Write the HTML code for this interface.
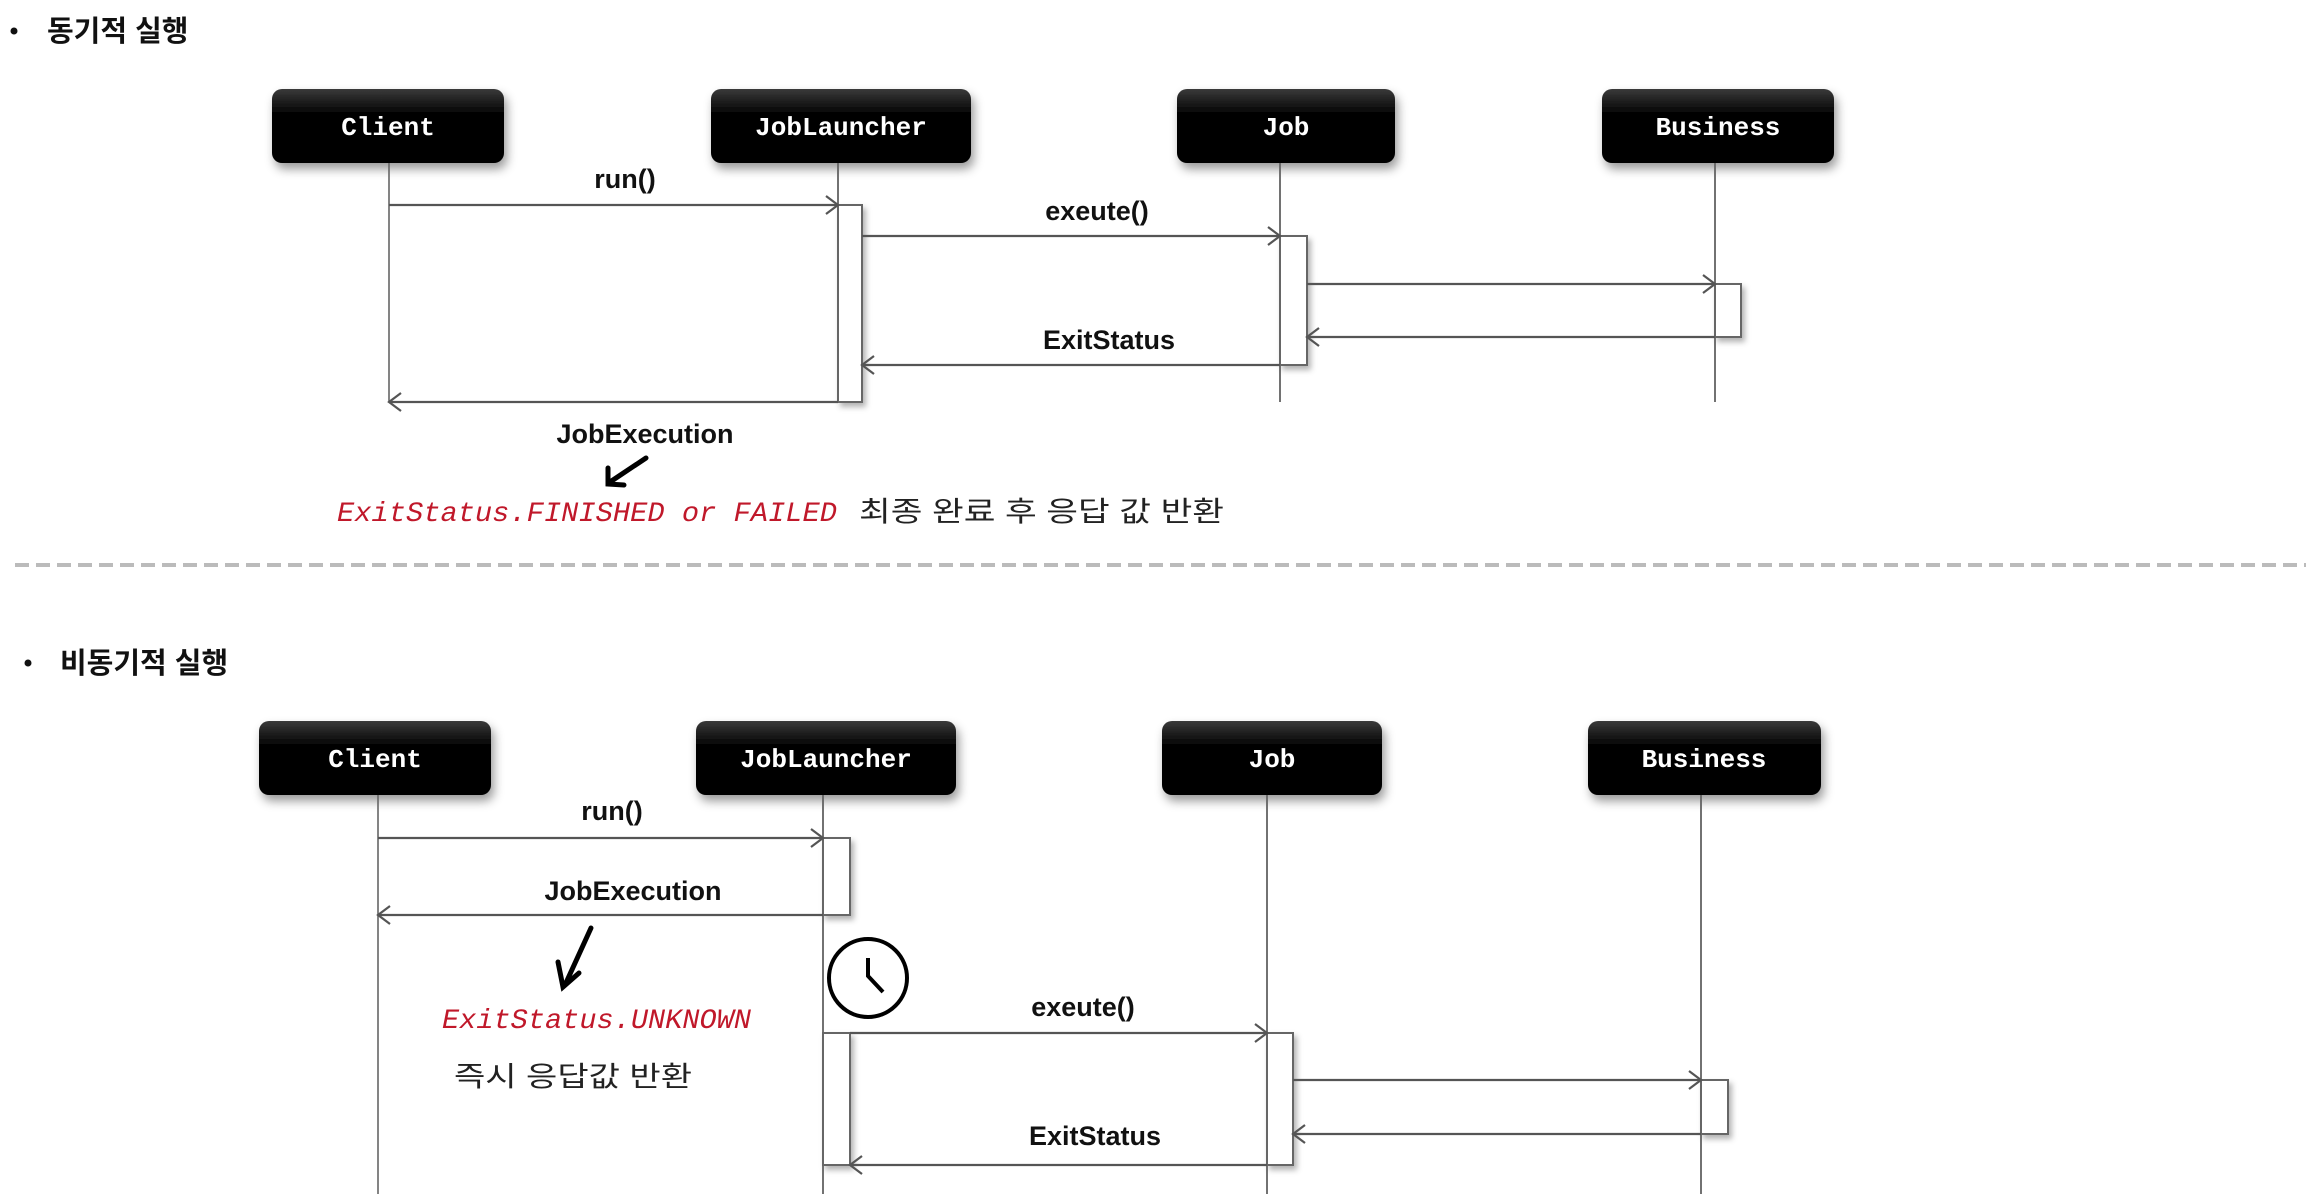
<!DOCTYPE html>
<html><head><meta charset="utf-8"><style>
html,body{margin:0;padding:0;background:#fff;}
svg{display:block;}
.lbl{font-family:"Liberation Sans","Noto Sans CJK KR",sans-serif;font-weight:bold;font-size:27px;fill:#111;}
.box{font-family:"Liberation Mono",monospace;font-weight:bold;font-size:26px;fill:#fff;}
.red{font-family:"Liberation Mono",monospace;font-style:italic;font-size:28px;fill:#c0182a;}
.kr{font-family:"Liberation Sans","Noto Sans CJK KR",sans-serif;font-size:28px;fill:#222;}
.title{font-family:"Liberation Sans","Noto Sans CJK KR",sans-serif;font-weight:bold;font-size:29px;fill:#111;}
</style></head><body>
<svg width="2318" height="1194" viewBox="0 0 2318 1194" xmlns="http://www.w3.org/2000/svg">
<defs>
<linearGradient id="g" x1="0" y1="0" x2="0" y2="1"><stop offset="0" stop-color="#3a3a3a"/><stop offset="0.35" stop-color="#000"/><stop offset="1" stop-color="#000"/></linearGradient>
<filter id="sh" x="-20%" y="-20%" width="140%" height="160%"><feDropShadow dx="3" dy="6" stdDeviation="5" flood-color="#000" flood-opacity="0.4"/></filter>
<filter id="sh2" x="-50%" y="-10%" width="200%" height="130%"><feDropShadow dx="3" dy="4" stdDeviation="3" flood-color="#000" flood-opacity="0.3"/></filter>
</defs>

<!-- TOP -->
<circle cx="14" cy="31" r="3.5" fill="#111"/>
<text class="title" x="47" y="41">동기적 실행</text>

<g filter="url(#sh)">
<rect x="272" y="89" width="232" height="74" rx="10" fill="url(#g)"/>
<rect x="711" y="89" width="260" height="74" rx="10" fill="url(#g)"/>
<rect x="1177" y="89" width="218" height="74" rx="10" fill="url(#g)"/>
<rect x="1602" y="89" width="232" height="74" rx="10" fill="url(#g)"/>
</g>
<text class="box" x="388" y="135" text-anchor="middle">Client</text>
<text class="box" x="841" y="135" text-anchor="middle">JobLauncher</text>
<text class="box" x="1286" y="135" text-anchor="middle">Job</text>
<text class="box" x="1718" y="135" text-anchor="middle">Business</text>

<g stroke="#666" stroke-width="1.6" fill="none">
<line x1="389" y1="163" x2="389" y2="402"/>
<line x1="838" y1="163" x2="838" y2="402"/>
<line x1="1280" y1="163" x2="1280" y2="402"/>
<line x1="1715" y1="163" x2="1715" y2="402"/>
</g>
<g stroke="#666" stroke-width="2" fill="#fff" filter="url(#sh2)">
<rect x="838" y="205" width="24" height="197"/>
<rect x="1280" y="236" width="27" height="129"/>
<rect x="1715" y="284" width="26" height="53"/>
</g>
<g stroke="#666" stroke-width="1.6" fill="none">
<line x1="838" y1="163" x2="838" y2="402"/>
<line x1="1280" y1="163" x2="1280" y2="402"/>
<line x1="1715" y1="163" x2="1715" y2="402"/>
</g>
<g stroke="#555" stroke-width="2.2" fill="none">
<line x1="389" y1="205" x2="838" y2="205"/><polyline points="826,196 838,205 826,214"/>
<line x1="862" y1="236" x2="1280" y2="236"/><polyline points="1268,227 1280,236 1268,245"/>
<line x1="1307" y1="284" x2="1715" y2="284"/><polyline points="1703,275 1715,284 1703,293"/>
<line x1="1715" y1="337" x2="1307" y2="337"/><polyline points="1319,328 1307,337 1319,346"/>
<line x1="1280" y1="365" x2="862" y2="365"/><polyline points="874,356 862,365 874,374"/>
<line x1="838" y1="402" x2="389" y2="402"/><polyline points="401,393 389,402 401,411"/>
</g>
<text class="lbl" x="625" y="188" text-anchor="middle">run()</text>
<text class="lbl" x="1097" y="220" text-anchor="middle">exeute()</text>
<text class="lbl" x="1109" y="349" text-anchor="middle">ExitStatus</text>
<text class="lbl" x="645" y="443" text-anchor="middle">JobExecution</text>
<g stroke="#000" stroke-width="5" fill="none" stroke-linecap="round">
<line x1="646" y1="458" x2="610" y2="482"/><polyline points="608,468 608,484 624,485"/>
</g>
<text class="red" x="337" y="521" textLength="500" lengthAdjust="spacingAndGlyphs">ExitStatus.FINISHED or FAILED</text>
<text class="kr" x="859" y="521" textLength="365" lengthAdjust="spacingAndGlyphs">최종 완료 후 응답 값 반환</text>

<line x1="15" y1="565" x2="2306" y2="565" stroke="#bbb" stroke-width="4" stroke-dasharray="14,7"/>

<!-- BOTTOM -->
<circle cx="28" cy="663" r="3.5" fill="#111"/>
<text class="title" x="60" y="673">비동기적 실행</text>

<g filter="url(#sh)">
<rect x="259" y="721" width="232" height="74" rx="10" fill="url(#g)"/>
<rect x="696" y="721" width="260" height="74" rx="10" fill="url(#g)"/>
<rect x="1162" y="721" width="220" height="74" rx="10" fill="url(#g)"/>
<rect x="1588" y="721" width="233" height="74" rx="10" fill="url(#g)"/>
</g>
<text class="box" x="375" y="767" text-anchor="middle">Client</text>
<text class="box" x="826" y="767" text-anchor="middle">JobLauncher</text>
<text class="box" x="1272" y="767" text-anchor="middle">Job</text>
<text class="box" x="1704" y="767" text-anchor="middle">Business</text>

<g stroke="#666" stroke-width="1.6" fill="none">
<line x1="378" y1="795" x2="378" y2="1194"/>
<line x1="823" y1="795" x2="823" y2="1194"/>
<line x1="1267" y1="795" x2="1267" y2="1194"/>
<line x1="1701" y1="795" x2="1701" y2="1194"/>
</g>
<g stroke="#666" stroke-width="2" fill="#fff" filter="url(#sh2)">
<rect x="823" y="838" width="27" height="77"/>
<rect x="823" y="1033" width="27" height="132"/>
<rect x="1267" y="1033" width="26" height="132"/>
<rect x="1701" y="1080" width="27" height="54"/>
</g>
<g stroke="#666" stroke-width="1.6" fill="none">
<line x1="823" y1="795" x2="823" y2="1194"/>
<line x1="1267" y1="795" x2="1267" y2="1194"/>
<line x1="1701" y1="795" x2="1701" y2="1194"/>
</g>
<g stroke="#555" stroke-width="2.2" fill="none">
<line x1="378" y1="838" x2="823" y2="838"/><polyline points="811,829 823,838 811,847"/>
<line x1="823" y1="915" x2="378" y2="915"/><polyline points="390,906 378,915 390,924"/>
<line x1="850" y1="1033" x2="1267" y2="1033"/><polyline points="1255,1024 1267,1033 1255,1042"/>
<line x1="1293" y1="1080" x2="1701" y2="1080"/><polyline points="1689,1071 1701,1080 1689,1089"/>
<line x1="1701" y1="1134" x2="1293" y2="1134"/><polyline points="1305,1125 1293,1134 1305,1143"/>
<line x1="1267" y1="1165" x2="850" y2="1165"/><polyline points="862,1156 850,1165 862,1174"/>
</g>
<text class="lbl" x="612" y="820" text-anchor="middle">run()</text>
<text class="lbl" x="633" y="900" text-anchor="middle">JobExecution</text>
<text class="lbl" x="1083" y="1016" text-anchor="middle">exeute()</text>
<text class="lbl" x="1095" y="1145" text-anchor="middle">ExitStatus</text>
<g stroke="#000" stroke-width="5" fill="none" stroke-linecap="round">
<line x1="591" y1="928" x2="565" y2="985"/><polyline points="558,962 563,987 579,973"/>
</g>
<text class="red" x="442" y="1028" textLength="309" lengthAdjust="spacingAndGlyphs">ExitStatus.UNKNOWN</text>
<text class="kr" x="454" y="1086" textLength="238" lengthAdjust="spacingAndGlyphs">즉시 응답값 반환</text>
<g stroke="#000" stroke-width="4" fill="none">
<circle cx="868" cy="978" r="39" fill="#fff"/>
<polyline points="868,958 868,976 883,992"/>
</g>
</svg>
</body></html>
